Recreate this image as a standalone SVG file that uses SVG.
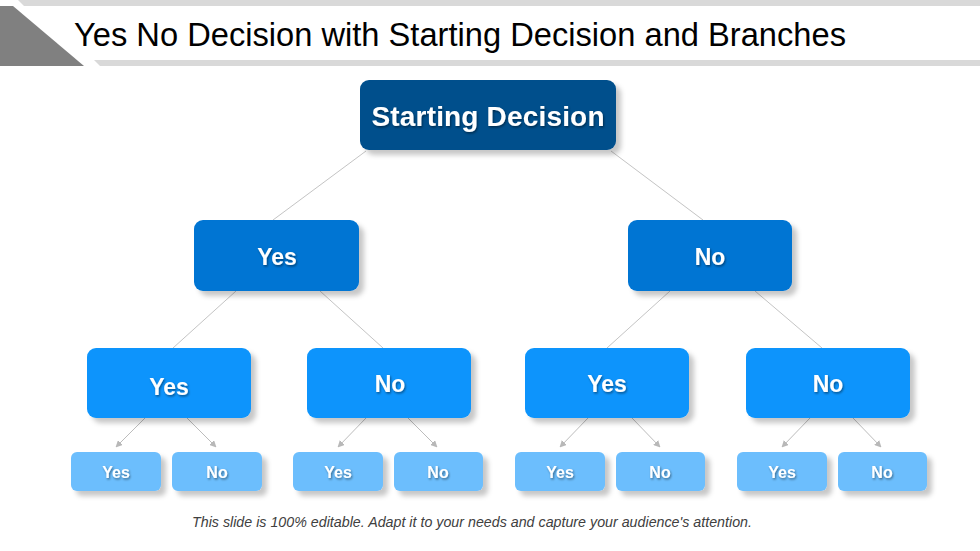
<svg xmlns="http://www.w3.org/2000/svg" width="980" height="551" viewBox="0 0 980 551">
<defs>
<filter id="sh" x="-10%" y="-10%" width="130%" height="140%">
<feDropShadow dx="5" dy="5" stdDeviation="2.5" flood-color="#000" flood-opacity="0.22"/>
</filter>
<filter id="ts" x="-10%" y="-20%" width="130%" height="150%">
<feDropShadow dx="1" dy="1.5" stdDeviation="0.8" flood-color="#000" flood-opacity="0.45"/>
</filter>
<marker id="ah" viewBox="0 0 10 10" refX="9" refY="5" markerWidth="7" markerHeight="7" orient="auto" markerUnits="userSpaceOnUse">
<path d="M0,0 L10,5 L0,10 z" fill="#b8b8b8"/>
</marker>
<style>
.t{font-family:"Liberation Sans",Arial,sans-serif;font-weight:bold;fill:#fff;text-anchor:middle;filter:url(#ts)}
.b0{fill:#034F8C;filter:url(#sh)}
.b1{fill:#0575D3;filter:url(#sh)}
.b2{fill:#0A94FC;filter:url(#sh)}
.b3{fill:#6CBEFD;filter:url(#sh)}
.ln{stroke:#c4c4c4;stroke-width:1;fill:none}
.ar{stroke:#bcbcbc;stroke-width:1;fill:none;marker-end:url(#ah)}
</style>
</defs>
<rect width="980" height="551" fill="#fff"/>
<g id="header">
<polygon points="18,0 980,0 980,6 24,6" fill="#d9d9d9"/>
<polygon points="94,60 980,60 980,66 100,66" fill="#d9d9d9"/>
<polygon points="0,6 13,6 84,66 0,66" fill="#808080"/>
<text x="74" y="46" font-family="'Liberation Sans',Arial,sans-serif" font-size="33" fill="#000" textLength="772" lengthAdjust="spacingAndGlyphs">Yes No Decision with Starting Decision and Branches</text>
</g>
<g id="connectors">
<line class="ln" x1="366" y1="151" x2="273" y2="220"/>
<line class="ln" x1="611" y1="151" x2="703" y2="220"/>
<line class="ln" x1="236" y1="291" x2="173" y2="348"/>
<line class="ln" x1="320" y1="291" x2="383" y2="348"/>
<line class="ln" x1="670" y1="291" x2="607" y2="348"/>
<line class="ln" x1="755" y1="291" x2="822" y2="348"/>
<line class="ar" x1="145" y1="418" x2="116" y2="447"/>
<line class="ar" x1="187" y1="418" x2="216" y2="447"/>
<line class="ar" x1="366" y1="418" x2="338" y2="447"/>
<line class="ar" x1="408" y1="418" x2="437" y2="447"/>
<line class="ar" x1="588" y1="418" x2="560" y2="447"/>
<line class="ar" x1="632" y1="418" x2="660" y2="447"/>
<line class="ar" x1="810" y1="418" x2="782" y2="447"/>
<line class="ar" x1="853" y1="418" x2="881" y2="447"/>
</g>
<g id="start"><rect class="b0" x="360" y="80" width="256" height="70" rx="9"/><text class="t" x="488" y="126" font-size="28" textLength="233">Starting Decision</text></g>
<g id="l2-yes"><rect class="b1" x="194" y="220" width="165" height="71" rx="9"/><text class="t" x="277" y="265" font-size="23">Yes</text></g>
<g id="l2-no"><rect class="b1" x="628" y="220" width="164" height="71" rx="9"/><text class="t" x="710" y="265" font-size="23">No</text></g>
<g id="l3-yes-yes"><rect class="b2" x="87" y="348" width="164" height="70" rx="9"/><text class="t" x="169" y="395" font-size="23">Yes</text></g>
<g id="l3-yes-no"><rect class="b2" x="307" y="348" width="164" height="70" rx="9"/><text class="t" x="390" y="392" font-size="23">No</text></g>
<g id="l3-no-yes"><rect class="b2" x="525" y="348" width="164" height="70" rx="9"/><text class="t" x="607" y="392" font-size="23">Yes</text></g>
<g id="l3-no-no"><rect class="b2" x="746" y="348" width="164" height="70" rx="9"/><text class="t" x="828" y="392" font-size="23">No</text></g>
<g id="l4-1"><rect class="b3" x="71" y="452" width="90" height="39" rx="6"/><text class="t" x="116" y="478" font-size="16">Yes</text></g>
<g id="l4-2"><rect class="b3" x="172" y="452" width="90" height="39" rx="6"/><text class="t" x="217" y="478" font-size="16">No</text></g>
<g id="l4-3"><rect class="b3" x="293" y="452" width="90" height="39" rx="6"/><text class="t" x="338" y="478" font-size="16">Yes</text></g>
<g id="l4-4"><rect class="b3" x="394" y="452" width="89" height="39" rx="6"/><text class="t" x="438" y="478" font-size="16">No</text></g>
<g id="l4-5"><rect class="b3" x="515" y="452" width="90" height="39" rx="6"/><text class="t" x="560" y="478" font-size="16">Yes</text></g>
<g id="l4-6"><rect class="b3" x="616" y="452" width="89" height="39" rx="6"/><text class="t" x="660" y="478" font-size="16">No</text></g>
<g id="l4-7"><rect class="b3" x="737" y="452" width="90" height="39" rx="6"/><text class="t" x="782" y="478" font-size="16">Yes</text></g>
<g id="l4-8"><rect class="b3" x="838" y="452" width="89" height="39" rx="6"/><text class="t" x="882" y="478" font-size="16">No</text></g>
<text x="472" y="527" font-family="'Liberation Sans',Arial,sans-serif" font-style="italic" font-size="14" fill="#404040" text-anchor="middle" textLength="560" lengthAdjust="spacingAndGlyphs">This slide is 100% editable. Adapt it to your needs and capture your audience's attention.</text>
</svg>
